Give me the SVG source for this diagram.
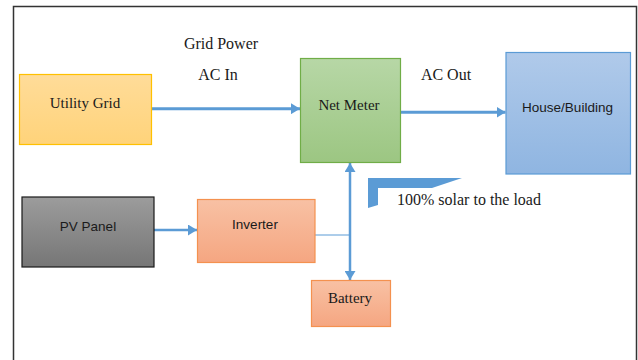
<svg xmlns="http://www.w3.org/2000/svg" width="638" height="360" viewBox="0 0 638 360">
<style>
.serif{font-family:"Liberation Serif","Times New Roman",serif;fill:#1a1a1a;text-anchor:middle}
.sans{font-family:"Liberation Sans",Arial,sans-serif;fill:#1a1a1a;text-anchor:middle;font-size:13.5px}
.conn{stroke:#5b9bd5;fill:none}
</style>
<defs>
<linearGradient id="gOrange" x1="0" y1="0" x2="0" y2="1"><stop offset="0" stop-color="#ffdc99"/><stop offset="1" stop-color="#ffd37a"/></linearGradient>
<linearGradient id="gGreen" x1="0" y1="0" x2="0" y2="1"><stop offset="0" stop-color="#b7d7a6"/><stop offset="1" stop-color="#9cc682"/></linearGradient>
<linearGradient id="gBlue" x1="0" y1="0" x2="0" y2="1"><stop offset="0" stop-color="#b0caea"/><stop offset="1" stop-color="#8fb5e1"/></linearGradient>
<linearGradient id="gGray" x1="0" y1="0" x2="0" y2="1"><stop offset="0" stop-color="#9c9c9c"/><stop offset="1" stop-color="#767676"/></linearGradient>
<linearGradient id="gSalmon" x1="0" y1="0" x2="0" y2="1"><stop offset="0" stop-color="#f8c1a4"/><stop offset="1" stop-color="#f5a681"/></linearGradient>
<marker id="ah" markerUnits="userSpaceOnUse" markerWidth="10" markerHeight="11" refX="9" refY="5.5" orient="auto-start-reverse"><path d="M0,0 L9,5.5 L0,11 Z" fill="#5b9bd5"/></marker>
</defs>
<rect x="13.5" y="6.5" width="623" height="360" fill="none" stroke="#333" stroke-width="1.5"/>
<g id="connectors">
<line class="conn" x1="152" y1="108.7" x2="300" y2="108.7" stroke-width="3" marker-end="url(#ah)"/>
<line class="conn" x1="401" y1="112.3" x2="505.5" y2="112.3" stroke-width="3" marker-end="url(#ah)"/>
<line class="conn" x1="154" y1="230" x2="197" y2="230" stroke-width="2.5" marker-end="url(#ah)"/>
<line class="conn" x1="350" y1="163" x2="350" y2="280" stroke-width="2.5" marker-start="url(#ah)" marker-end="url(#ah)"/>
<line class="conn" x1="315" y1="235" x2="350" y2="235" stroke-width="1"/>
</g>
<g id="utility-grid"><rect x="19.5" y="74.5" width="132" height="70" fill="url(#gOrange)" stroke="#ffc000" stroke-width="1.2"/><text class="serif" x="85" y="108" font-size="15">Utility Grid</text></g>
<g id="net-meter"><rect x="300.5" y="58.5" width="100" height="104" fill="url(#gGreen)" stroke="#70ad47" stroke-width="1.2"/><text class="serif" x="349" y="110" font-size="15">Net Meter</text></g>
<g id="house"><rect x="506" y="52.5" width="124.5" height="121.5" fill="url(#gBlue)" stroke="#5b9bd5" stroke-width="1.2"/><text class="sans" x="567.5" y="112" font-size="14">House/Building</text></g>
<g id="pv-panel"><rect x="22" y="197" width="132" height="70" fill="url(#gGray)" stroke="#1a1a1a" stroke-width="1.2"/><text class="sans" x="88" y="231">PV Panel</text></g>
<g id="inverter"><rect x="197.5" y="199.5" width="117.5" height="63" fill="url(#gSalmon)" stroke="#f4914f" stroke-width="1.2"/><text class="sans" x="255" y="229">Inverter</text></g>
<g id="battery"><rect x="311.5" y="280.5" width="79" height="46" fill="url(#gSalmon)" stroke="#f4914f" stroke-width="1.2"/><text class="serif" x="350" y="303" font-size="15">Battery</text></g>
<g id="labels">
<text class="serif" x="221" y="48.5" font-size="16">Grid Power</text>
<text class="serif" x="218" y="80" font-size="16">AC In</text>
<text class="serif" x="446" y="80" font-size="16">AC Out</text>
<polygon points="368,178 462,178 432,188 378,188 378,205 368,208" fill="#5b9bd5"/>
<text class="serif" x="397" y="205" font-size="16" style="text-anchor:start">100% solar to the load</text>
</g>
</svg>
